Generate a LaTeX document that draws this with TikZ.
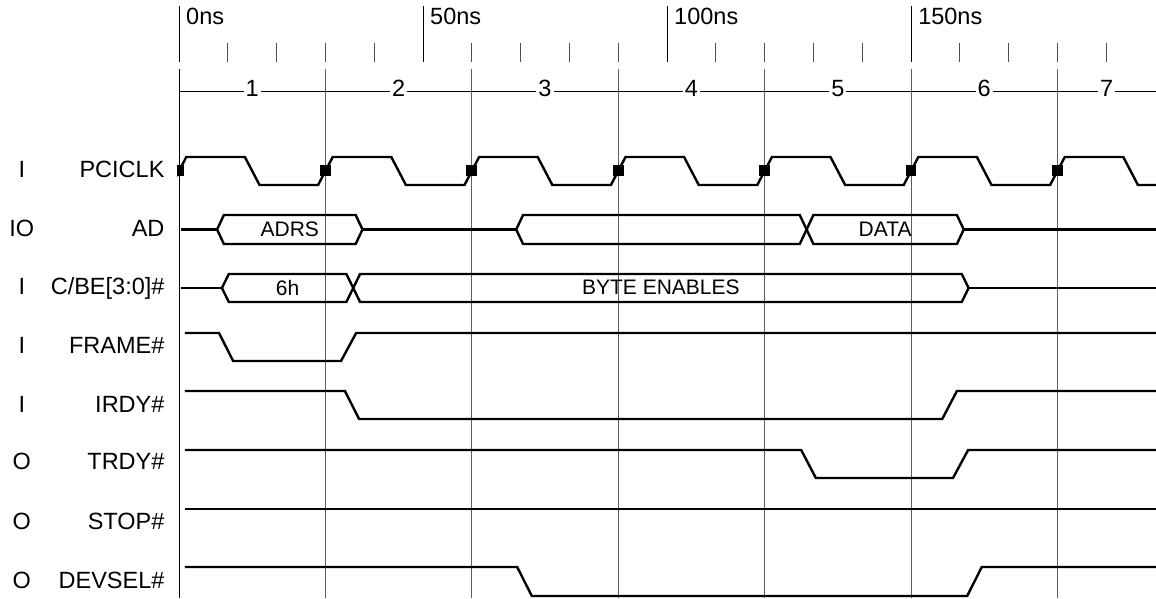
\documentclass[tikz,border=0pt]{standalone}
\usepackage{fontspec}
\setmainfont{Liberation Sans}
\definecolor{gridgray}{RGB}{95,95,95}
\definecolor{tickgray}{RGB}{80,80,80}

\begin{document}
\begin{tikzpicture}[x=2.44pt, y=-0.5pt,
  font=\fontsize{11.75}{14}\selectfont,
  signal/.style={line width=1.2pt},
  cycleline/.style={gridgray, line width=0.5pt},
  minortick/.style={tickgray, line width=0.5pt},
  buslabel/.style={font=\fontsize{10.5}{12}\selectfont, inner sep=0pt},
  rowlabel/.style={anchor=base east, inner sep=0pt},
  dirlabel/.style={anchor=base, inner sep=0pt}]

% ===================================================================
% x in ns (0ns at the first clock edge), y in pixel rows downwards
%   clock period 30ns, edges take 3ns, bus slants 1.4ns
% ===================================================================
\useasboundingbox (-36.68,0) rectangle (200.2,598);

% ===== TIME SCALE =====
\foreach \t in {0,50,100,150}
  \draw[line width=0.5pt] (\t,6) -- (\t,62);
\foreach \t in {10,20,30,40,60,70,80,90,110,120,130,140,160,170,180,190}
  \draw[minortick] (\t,43) -- (\t,62);

\node[anchor=base west, inner sep=0pt] (t0)   at (1.4,25)   {0ns};
\node[anchor=base west, inner sep=0pt] (t50)  at (51.4,25)  {50ns};
\node[anchor=base west, inner sep=0pt] (t100) at (101.4,25) {100ns};
\node[anchor=base west, inner sep=0pt] (t150) at (151.4,25) {150ns};

% ===== CLOCK CYCLES =====
\draw[line width=0.5pt] (0,92) -- (200.2,92);
\foreach \c in {1,...,6}
  \node[fill=white, inner xsep=1pt, inner ysep=0pt, anchor=base]
    (cyc\c) at ({30*\c-15},97) {\c};
% last cycle is cut off: number sits in the visible part
\node[fill=white, inner xsep=1pt, inner ysep=0pt, anchor=base]
  (cyc7) at (190.1,97) {7};

\draw[line width=0.5pt] (0,69) -- (0,598);
\foreach \t in {30,60,...,180}
  \draw[cycleline] (\t,69) -- (\t,598);

% ===== SIGNAL NAMES =====
\node[dirlabel] (dclk)    at (-32.2,177) {I};
\node[dirlabel] (dad)     at (-32.2,236) {IO};
\node[dirlabel] (dcbe)    at (-32.2,294) {I};
\node[dirlabel] (dframe)  at (-32.2,353) {I};
\node[dirlabel] (dirdy)   at (-32.2,412) {I};
\node[dirlabel] (dtrdy)   at (-32.2,469.5) {O};
\node[dirlabel] (dstop)   at (-32.2,529) {O};
\node[dirlabel] (ddevsel) at (-32.2,588) {O};

\node[rowlabel] (lclk)    at (-2.9,177) {PCICLK};
\node[rowlabel] (lad)     at (-2.9,236) {AD};
\node[rowlabel] (lcbe)    at (-2.9,294) {C/BE[3:0]\#};
\node[rowlabel] (lframe)  at (-2.9,353) {FRAME\#};
\node[rowlabel] (lirdy)   at (-2.9,412) {IRDY\#};
\node[rowlabel] (ltrdy)   at (-2.9,469.5) {TRDY\#};
\node[rowlabel] (lstop)   at (-2.9,529) {STOP\#};
\node[rowlabel] (ldevsel) at (-2.9,588) {DEVSEL\#};

% ===== PCICLK =====
\begin{scope}
  \clip (-0.4,140) rectangle (200.2,200);
  \draw[signal] (-1.5,185)
    \foreach \t in {0,30,...,180} {
      -- (\t+1.5,157) -- (\t+13.5,157) -- (\t+16.5,185) -- (\t+28.5,185) };
  % sampling points on the rising edges
  \foreach \t in {0,30,...,180}
    \fill (\t-1.1,165.5) rectangle (\t+1.1,176.5);
\end{scope}

% ===== AD =====
\draw[signal] (0.4,229.5) -- (7.8,229.5);
\draw[signal] (7.8,229.5) -- (9.2,215) -- (36.2,215) -- (37.6,229.5)
  -- (36.2,244) -- (9.2,244) -- cycle;
\node[buslabel] (adrs) at (22.7,229) {ADRS};
\draw[signal] (37.6,229.5) -- (69.1,229.5);
\draw[signal] (69.1,229.5) -- (70.5,215) -- (127.2,215) -- (128.6,229.5)
  -- (127.2,244) -- (70.5,244) -- cycle;
\draw[signal] (128.6,229.5) -- (130,215) -- (159.4,215) -- (160.8,229.5)
  -- (159.4,244) -- (130,244) -- cycle;
\node[buslabel] (data) at (144.7,229) {DATA};
\draw[signal] (160.8,229.5) -- (200.2,229.5);

% ===== C/BE[3:0]# =====
\draw[signal] (0.4,288) -- (8.8,288);
\draw[signal] (8.8,288) -- (10.2,274) -- (34.3,274) -- (35.7,288)
  -- (34.3,302) -- (10.2,302) -- cycle;
\node[buslabel] (cmd) at (22.25,287.5) {6h};
\draw[signal] (35.7,288) -- (37.1,274) -- (160.4,274) -- (161.8,288)
  -- (160.4,302) -- (37.1,302) -- cycle;
\node[buslabel] (byteen) at (98.75,287.5) {BYTE ENABLES};
\draw[signal] (161.8,288) -- (200.2,288);

% ===== CONTROL LINES (active low) =====
\draw[signal] (1.2,333) -- (8.2,333) -- (11.1,361) -- (33.2,361)
  -- (36.3,333) -- (200.2,333);
\draw[signal] (1.2,391) -- (34.0,391) -- (36.9,419) -- (156.4,419)
  -- (159.4,391) -- (200.2,391);
\draw[signal] (1.2,450) -- (127.5,450) -- (130.5,478) -- (158.6,478)
  -- (161.7,450) -- (200.2,450);
\draw[signal] (1.2,509) -- (200.2,509);
\draw[signal] (1.2,567) -- (69.3,567) -- (72.3,596) -- (161.5,596)
  -- (164.5,567) -- (200.2,567);

\end{tikzpicture}
\end{document}
